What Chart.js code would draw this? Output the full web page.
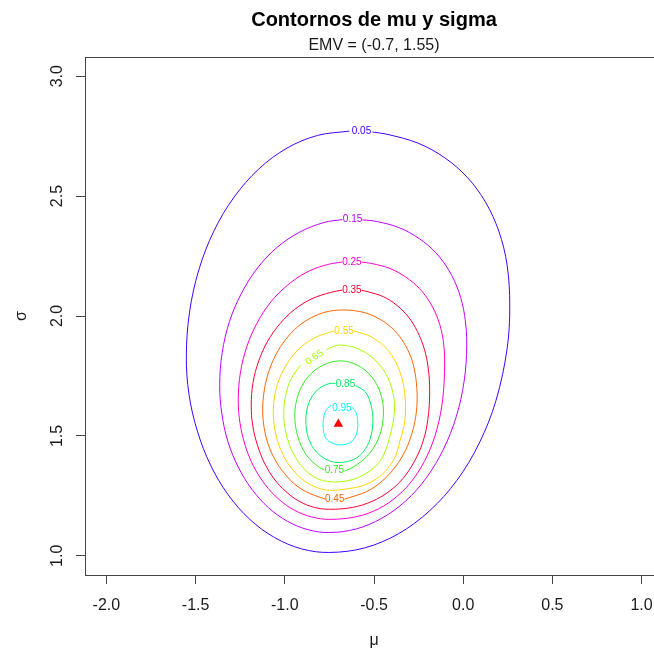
<!DOCTYPE html>
<html>
<head>
<meta charset="utf-8">
<script src="https://cdn.jsdelivr.net/npm/chart.js@4.4.1/dist/chart.umd.min.js"></script>
<style>
  html, body { margin: 0; padding: 0; background: #ffffff; overflow: hidden; width: 654px; height: 656px; }
  #wrap { position: absolute; left: 0; top: 0; width: 680px; height: 656px; }
</style>
</head>
<body>
<div id="wrap"><canvas id="c" width="680" height="656"></canvas></div>
<script>
// Relative likelihood contours for (mu, sigma)
const levelLabels = ['0.05', '0.15', '0.25', '0.35', '0.45', '0.55', '0.65', '0.75', '0.85', '0.95'];

const mu05  = [-0.508, -0.428, -0.254, -0.104, 0.023, 0.125, 0.200, 0.246, 0.261, 0.246, 0.184, 0.090, -0.035, -0.188, -0.363, -0.553, -0.75, -0.906, -1.057, -1.196, -1.317, -1.416, -1.490, -1.537, -1.552, -1.534, -1.482, -1.397, -1.284, -1.146, -0.988, -0.816, -0.638];
const sig05 = [2.767, 2.758, 2.721, 2.660, 2.578, 2.475, 2.353, 2.213, 2.042, 1.863, 1.648, 1.470, 1.315, 1.188, 1.092, 1.033, 1.014, 1.029, 1.076, 1.152, 1.254, 1.378, 1.520, 1.673, 1.833, 2.016, 2.192, 2.355, 2.496, 2.613, 2.700, 2.753, 2.771];

const mu15  = [-0.565, -0.484, -0.358, -0.247, -0.154, -0.080, -0.025, 0.008, 0.020, 0.005, -0.039, -0.111, -0.206, -0.322, -0.456, -0.600, -0.75, -0.870, -0.985, -1.092, -1.185, -1.261, -1.319, -1.353, -1.365, -1.351, -1.310, -1.242, -1.152, -1.042, -0.916, -0.780, -0.677];
const sig15 = [2.401, 2.394, 2.368, 2.323, 2.264, 2.190, 2.102, 2.002, 1.879, 1.727, 1.580, 1.444, 1.326, 1.229, 1.157, 1.112, 1.097, 1.109, 1.144, 1.201, 1.278, 1.370, 1.477, 1.593, 1.713, 1.847, 1.977, 2.096, 2.201, 2.287, 2.350, 2.390, 2.402];

const mu25  = [-0.570, -0.513, -0.410, -0.321, -0.246, -0.185, -0.140, -0.113, -0.104, -0.115, -0.148, -0.202, -0.275, -0.366, -0.475, -0.599, -0.75, -0.849, -0.946, -1.034, -1.111, -1.175, -1.222, -1.251, -1.261, -1.249, -1.214, -1.156, -1.079, -0.984, -0.876, -0.759, -0.677];
const sig25 = [2.225, 2.219, 2.198, 2.162, 2.115, 2.055, 1.984, 1.903, 1.804, 1.652, 1.526, 1.417, 1.325, 1.251, 1.196, 1.163, 1.152, 1.162, 1.190, 1.236, 1.298, 1.373, 1.460, 1.553, 1.650, 1.763, 1.870, 1.970, 2.058, 2.129, 2.183, 2.215, 2.225];

const mu35  = [-0.570, -0.533, -0.446, -0.371, -0.307, -0.257, -0.219, -0.196, -0.188, -0.198, -0.226, -0.274, -0.337, -0.416, -0.511, -0.619, -0.75, -0.835, -0.918, -0.994, -1.060, -1.114, -1.154, -1.180, -1.188, -1.178, -1.146, -1.096, -1.027, -0.944, -0.848, -0.745, -0.677];
const sig35 = [2.107, 2.101, 2.080, 2.044, 1.996, 1.936, 1.865, 1.783, 1.683, 1.569, 1.475, 1.393, 1.323, 1.268, 1.227, 1.202, 1.194, 1.202, 1.227, 1.268, 1.321, 1.387, 1.463, 1.544, 1.629, 1.723, 1.813, 1.895, 1.968, 2.028, 2.072, 2.098, 2.108];

const mu45  = [-0.666, -0.541, -0.462, -0.393, -0.335, -0.293, -0.267, -0.258, -0.266, -0.287, -0.323, -0.371, -0.431, -0.502, -0.583, -0.683, -0.769, -0.851, -0.928, -0.994, -1.049, -1.090, -1.115, -1.124, -1.116, -1.093, -1.055, -1.004, -0.943, -0.872, -0.772];
const sig45 = [1.236, 1.268, 1.307, 1.359, 1.423, 1.497, 1.576, 1.658, 1.744, 1.815, 1.876, 1.928, 1.969, 2.000, 2.019, 2.025, 2.017, 1.993, 1.955, 1.903, 1.840, 1.768, 1.690, 1.608, 1.535, 1.465, 1.401, 1.345, 1.298, 1.264, 1.236];

const mu55  = [-0.615, -0.590, -0.523, -0.465, -0.415, -0.376, -0.347, -0.329, -0.323, -0.331, -0.354, -0.379, -0.424, -0.486, -0.567, -0.653, -0.733, -0.798, -0.860, -0.917, -0.967, -1.008, -1.039, -1.058, -1.065, -1.057, -1.035, -0.998, -0.949, -0.890, -0.822, -0.748, -0.722];
const sig55 = [1.938, 1.933, 1.916, 1.888, 1.851, 1.805, 1.749, 1.686, 1.608, 1.543, 1.480, 1.417, 1.363, 1.321, 1.292, 1.279, 1.273, 1.279, 1.298, 1.328, 1.369, 1.418, 1.475, 1.536, 1.600, 1.666, 1.730, 1.788, 1.840, 1.882, 1.913, 1.932, 1.938];

const mu65  = [-0.767, -0.694, -0.576, -0.475, -0.408, -0.385, -0.411, -0.469, -0.587, -0.733, -0.838, -0.926, -0.985, -1.006, -0.982, -0.952, -0.913];
const sig65 = [1.860, 1.879, 1.859, 1.802, 1.717, 1.617, 1.499, 1.392, 1.327, 1.308, 1.330, 1.394, 1.488, 1.600, 1.707, 1.754, 1.794];

const mu75  = [-0.666, -0.616, -0.528, -0.467, -0.447, -0.465, -0.517, -0.596, -0.688, -0.786, -0.869, -0.924, -0.944, -0.927, -0.879, -0.807, -0.778];
const sig75 = [1.353, 1.370, 1.424, 1.505, 1.600, 1.681, 1.750, 1.796, 1.813, 1.795, 1.747, 1.674, 1.588, 1.497, 1.420, 1.369, 1.358];

const mu85  = [-0.604, -0.548, -0.517, -0.506, -0.517, -0.548, -0.598, -0.675, -0.75, -0.823, -0.868, -0.882, -0.865, -0.817, -0.756, -0.716];
const sig85 = [1.71, 1.683, 1.629, 1.567, 1.5, 1.446, 1.408, 1.39, 1.396, 1.433, 1.492, 1.567, 1.638, 1.692, 1.717, 1.719];

const mu95  = [-0.621, -0.598, -0.591, -0.6, -0.626, -0.675, -0.731, -0.769, -0.784, -0.784, -0.769, -0.742];
const sig95 = [1.619, 1.592, 1.546, 1.504, 1.476, 1.463, 1.469, 1.49, 1.525, 1.567, 1.608, 1.627];

// where each level's label sits on its curve
const labelMu    = [-0.57, -0.62, -0.624, -0.624, -0.72, -0.668, -0.834, -0.722, -0.66, -0.68];
const labelSigma = [2.770, 2.402, 2.225, 2.108, 1.236, 1.938, 1.827, 1.355, 1.717, 1.615];
const labelAngle = [0, 0, 0, 0, 0, 0, -34, 0, 0, 0];

// maximum likelihood estimate
const emvMu = -0.7;
const emvSigma = 1.55;

const xTicks = [-2.0, -1.5, -1.0, -0.5, 0.0, 0.5, 1.0];
const yTicks = [1.0, 1.5, 2.0, 2.5, 3.0];

const muSets = [mu05, mu15, mu25, mu35, mu45, mu55, mu65, mu75, mu85, mu95];
const sigmaSets = [sig05, sig15, sig25, sig35, sig45, sig55, sig65, sig75, sig85, sig95];
const levelColors = ['#4400FF', '#C000FF', '#FF00CC', '#FF0033', '#FF6600', '#FFD500', '#AAFF00', '#33EE22', '#00F060', '#00FFFF'];

const FONT = '"Liberation Sans", Arial, Helvetica, sans-serif';
const AXIS_COLOR = '#444444';
const TEXT_COLOR = '#1a1a1a';

const datasets = levelLabels.map((lab, i) => ({
  label: lab,
  data: muSets[i].map((m, j) => ({ x: m, y: sigmaSets[i][j] })),
  showLine: true,
  borderColor: levelColors[i],
  backgroundColor: levelColors[i],
  borderWidth: 1,
  pointRadius: 0,
  tension: 0.35,
  fill: false
}));
datasets.push({
  label: 'EMV',
  data: [{ x: emvMu, y: emvSigma }],
  showLine: false,
  pointStyle: 'triangle',
  pointRadius: 5.5,
  backgroundColor: '#FF0000',
  borderColor: '#FF0000',
  borderWidth: 0
});

const rDecorations = {
  id: 'rDecorations',
  afterDatasetsDraw(chart) {
    const ctx = chart.ctx;
    const xs = chart.scales.x, ys = chart.scales.y;
    ctx.save();
    ctx.font = '10px ' + FONT;
    ctx.textAlign = 'center';
    ctx.textBaseline = 'middle';
    levelLabels.forEach((lab, i) => {
      const px = xs.getPixelForValue(labelMu[i]);
      const py = ys.getPixelForValue(labelSigma[i]);
      ctx.save();
      ctx.translate(px, py);
      ctx.rotate(labelAngle[i] * Math.PI / 180);
      ctx.fillStyle = levelColors[i];
      ctx.fillText(lab, 0, 0);
      ctx.restore();
    });
    ctx.restore();
  },
  afterDraw(chart) {
    const ctx = chart.ctx;
    const a = chart.chartArea;
    const ys = chart.scales.y;
    const cx = (a.left + a.right) / 2;
    ctx.save();
    // plot frame
    ctx.strokeStyle = AXIS_COLOR;
    ctx.lineWidth = 1;
    ctx.strokeRect(Math.round(a.left) + 0.5, Math.round(a.top) + 0.5,
                   Math.round(a.right - a.left), Math.round(a.bottom - a.top));
    // y tick labels, rotated as in base R graphics
    ctx.fillStyle = TEXT_COLOR;
    ctx.font = '16px ' + FONT;
    ctx.textAlign = 'center';
    ctx.textBaseline = 'alphabetic';
    yTicks.forEach(v => {
      const py = ys.getPixelForValue(v);
      ctx.save();
      ctx.translate(a.left - 23, py);
      ctx.rotate(-Math.PI / 2);
      ctx.fillText(v.toFixed(1), 0, 0);
      ctx.restore();
    });
    // axis titles
    ctx.save();
    ctx.translate(26, (a.top + a.bottom) / 2);
    ctx.rotate(-Math.PI / 2);
    ctx.fillText('\u03C3', 0, 0);
    ctx.restore();
    ctx.fillText('\u03BC', cx, 645);
    // main title and subtitle
    ctx.font = 'bold 20px ' + FONT;
    ctx.fillStyle = '#000000';
    ctx.fillText('Contornos de mu y sigma', cx, 26);
    ctx.font = '16px ' + FONT;
    ctx.fillStyle = TEXT_COLOR;
    ctx.fillText('EMV = (-0.7, 1.55)', cx, 50);
    ctx.restore();
  }
};

new Chart(document.getElementById('c'), {
  type: 'scatter',
  data: { datasets },
  options: {
    responsive: false,
    animation: false,
    layout: { padding: { top: 57, right: 17, left: 0, bottom: 0 } },
    plugins: { legend: { display: false }, tooltip: { enabled: false }, title: { display: false } },
    scales: {
      x: {
        type: 'linear',
        min: -2.12,
        max: 1.12,
        afterBuildTicks: s => { s.ticks = xTicks.map(v => ({ value: v })); },
        afterFit: s => { s.height = 81; },
        ticks: {
          font: { family: FONT, size: 16 },
          color: TEXT_COLOR,
          padding: 12,
          maxRotation: 0,
          autoSkip: false,
          callback: v => Number(v).toFixed(1)
        },
        grid: { display: true, drawOnChartArea: false, drawTicks: true, tickLength: 9, tickColor: AXIS_COLOR, lineWidth: 1 },
        border: { display: false }
      },
      y: {
        type: 'linear',
        min: 0.92,
        max: 3.08,
        afterBuildTicks: s => { s.ticks = yTicks.map(v => ({ value: v })); },
        afterFit: s => { s.width = 85; },
        ticks: { display: false },
        grid: { display: true, drawOnChartArea: false, drawTicks: true, tickLength: 9, tickColor: AXIS_COLOR, lineWidth: 1 },
        border: { display: false }
      }
    }
  },
  plugins: [rDecorations]
});
</script>
</body>
</html>
